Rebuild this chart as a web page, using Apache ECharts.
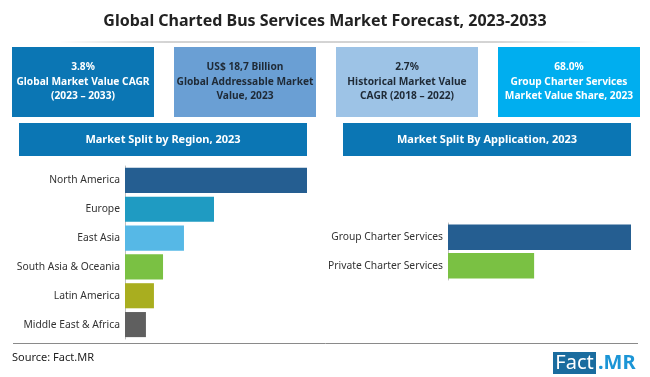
<!DOCTYPE html>
<html>
<head>
<meta charset="utf-8">
<script src="https://cdn.jsdelivr.net/npm/echarts@6/dist/echarts.min.js"></script>
<style>
  html, body { margin: 0; padding: 0; background: #fff; }
  #chart { width: 650px; height: 377px; }
</style>
</head>
<body>
<div id="chart"></div>
<script>
// market split by region, 2023 (relative index, North America = 100)
const regions = ['North America', 'Europe', 'East Asia', 'South Asia & Oceania', 'Latin America', 'Middle East & Africa'];
const regionValues = [100, 48.9, 32.4, 20.9, 15.9, 11.5];
const regionColors = ['#255e91', '#1f9bc2', '#56b8e6', '#7ac143', '#a9ae1f', '#5f5f5f'];

// market split by application, 2023 (share %)
const applications = ['Group Charter Services', 'Private Charter Services'];
const appValues = [68, 32];
const appColors = ['#255e91', '#7ac143'];

// headline boxes
const kpiLines = [
  ['3.8%', 'Global Market Value CAGR', '(2023 – 2033)'],
  ['US$ 18,7 Billion', 'Global Addressable Market', 'Value, 2023'],
  ['2.7%', 'Historical Market Value', 'CAGR (2018 – 2022)'],
  ['68.0%', 'Group Charter Services', 'Market Value Share, 2023']
];
const kpiFill = ['#0b76b4', '#6a9fd4', '#9dc3e6', '#00aeef'];
const kpiText = ['#ffffff', '#1f2a36', '#1f2a36', '#ffffff'];

const font = '"Noto Sans", "Open Sans", sans-serif';

let myChart = echarts.init(document.getElementById('chart'))

let graphics = []

// title + divider
graphics.push({
  type: 'text', left: 'center', top: 13,
  style: { text: 'Global Charted Bus Services Market Forecast, 2023-2033', font: 'bold 16px ' + font, fill: '#222' }
})
graphics.push({
  type: 'line', shape: { x1: 60, y1: 42, x2: 600, y2: 42 },
  style: {
    lineWidth: 1,
    stroke: new echarts.graphic.LinearGradient(0, 0, 1, 0, [
      { offset: 0, color: 'rgba(160,160,160,0)' },
      { offset: 0.2, color: '#a8a8a8' },
      { offset: 0.8, color: '#a8a8a8' },
      { offset: 1, color: 'rgba(160,160,160,0)' }
    ])
  }
})

// kpi boxes
kpiLines.forEach((lines, i) => {
  let x = 12 + i * 162
  graphics.push({
    type: 'rect', shape: { x: x, y: 47, width: 142, height: 70 },
    style: { fill: kpiFill[i] }
  })
  graphics.push({
    type: 'text', x: x + 71, y: 82,
    style: {
      text: lines.join('\n'), font: 'bold 10.2px ' + font, fill: kpiText[i],
      align: 'center', verticalAlign: 'middle', lineHeight: 14.5
    }
  })
})

// section headers
const headers = [
  { x: 19, text: 'Market Split by Region, 2023' },
  { x: 343, text: 'Market Split By Application, 2023' }
]
headers.forEach(h => {
  graphics.push({
    type: 'rect', shape: { x: h.x, y: 123, width: 288, height: 33 },
    style: { fill: '#0b76b4' }
  })
  graphics.push({
    type: 'text', x: h.x + 144, y: 139.5,
    style: { text: h.text, font: 'bold 11px ' + font, fill: '#fff', align: 'center', verticalAlign: 'middle' }
  })
})

// bottom rule, source, logo
graphics.push({
  type: 'line', shape: { x1: 13, y1: 343.5, x2: 638, y2: 343.5 },
  style: { stroke: '#8a8a8a', lineWidth: 1 }
})
graphics.push({
  type: 'text', x: 12, y: 358,
  style: { text: 'Source: Fact.MR', font: '11px ' + font, fill: '#222', verticalAlign: 'middle' }
})
graphics.push({
  type: 'rect', shape: { x: 553, y: 352, width: 43, height: 22 },
  style: { fill: '#1a6c9f' }
})
graphics.push({
  type: 'text', x: 574.5, y: 363,
  style: { text: 'Fact', font: '20px ' + font, fill: '#fff', align: 'center', verticalAlign: 'middle' }
})
graphics.push({
  type: 'text', x: 598, y: 363,
  style: { text: '.MR', font: 'bold 20px ' + font, fill: '#1b95d6', verticalAlign: 'middle' }
})

const labelStyle = { color: '#333', fontSize: 10.3, fontFamily: font, margin: 5 }

let option = {
  animation: false,
  backgroundColor: '#fff',
  graphic: graphics,
  grid: [
    { left: 125, top: 166, width: 182, height: 173 },
    { left: 448, top: 223, width: 183, height: 57 }
  ],
  xAxis: [
    { gridIndex: 0, type: 'value', min: 0, max: 100, show: false },
    { gridIndex: 1, type: 'value', min: 0, max: 68, show: false }
  ],
  yAxis: [
    {
      gridIndex: 0, type: 'category', inverse: true, data: regions,
      axisLine: { show: true, lineStyle: { color: '#bfbfbf' } },
      axisTick: { show: false },
      axisLabel: labelStyle
    },
    {
      gridIndex: 1, type: 'category', inverse: true, data: applications,
      axisLine: { show: true, lineStyle: { color: '#bfbfbf' } },
      axisTick: { show: false },
      axisLabel: labelStyle
    }
  ],
  series: [
    {
      type: 'bar', xAxisIndex: 0, yAxisIndex: 0, barCategoryGap: '13%',
      data: regionValues.map((v, i) => ({ value: v, itemStyle: { color: regionColors[i] } }))
    },
    {
      type: 'bar', xAxisIndex: 1, yAxisIndex: 1, barCategoryGap: '11%',
      data: appValues.map((v, i) => ({ value: v, itemStyle: { color: appColors[i] } }))
    }
  ]
}
myChart.setOption(option)
</script>
</body>
</html>
